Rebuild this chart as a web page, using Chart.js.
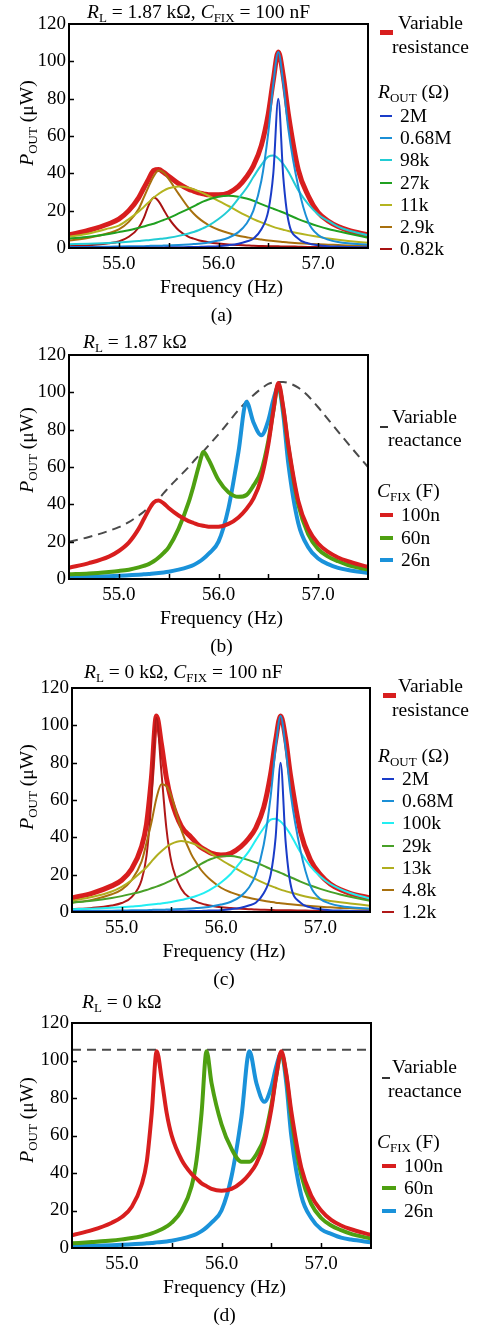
<!DOCTYPE html>
<html>
<head>
<meta charset="utf-8">
<script src="https://cdn.jsdelivr.net/npm/chart.js@4.4.1/dist/chart.umd.min.js"></script>
<style>
  body { margin: 0; background: #fff; }
  #page { position: relative; width: 478px; height: 1328px; overflow: hidden;
          font-family: "Liberation Serif", "DejaVu Serif", serif; color: #000; }
  canvas { position: absolute; left: 0; }
  .t { position: absolute; font-size: 19.5px; line-height: 20px; white-space: nowrap; }
  .t i { font-style: italic; }
  .t sub { font-size: 13px; vertical-align: -4px; line-height: 0; }
  .ctr { transform: translateX(-50%); }
  .yl { transform: translate(-50%, -50%) rotate(-90deg); }
  .mk { position: absolute; }
</style>
</head>
<body>
<div id="page">
  <canvas id="ca" width="478" height="330" style="top:0px"></canvas>
  <canvas id="cb" width="478" height="330" style="top:330px"></canvas>
  <canvas id="cc" width="478" height="330" style="top:660px"></canvas>
  <canvas id="cd" width="478" height="338" style="top:990px"></canvas>
</div>
<script>
// shared frequency grid (Hz)
const freq = [54.5, 54.7, 54.9, 55.0, 55.1, 55.2,
              55.25, 55.3, 55.35, 55.4, 55.45, 55.5,
              55.6, 55.7, 55.75, 55.8, 55.85, 55.9,
              56.0, 56.1, 56.2, 56.28, 56.35, 56.43,
              56.5, 56.55, 56.6, 56.65, 56.7, 56.8,
              56.9, 57.0, 57.1, 57.2, 57.3, 57.5];
const yTicks = [0, 20, 40, 60, 80, 100, 120];

// (a) RL = 1.87 kOhm, CFIX = 100 nF
const aLabels = ['2M', '0.68M', '98k', '27k', '11k', '2.9k', '0.82k'];
const aVarRes = [7, 9.5, 13, 15.5, 20, 27,
                 32, 37, 41.5, 42, 40.5, 38.5,
                 34.5, 31.5, 30.5, 29.5, 29, 28.5,
                 28.5, 29.5, 33, 38, 44, 55,
                 72, 90, 105, 92, 72, 42,
                 28, 19, 14.5, 11.5, 9.5, 7];
const a2M = [0.3, 0.3, 0.3, 0.3, 0.3, 0.3,
             0.3, 0.3, 0.3, 0.3, 0.3, 0.4,
             0.4, 0.5, 0.5, 0.6, 0.7, 0.8,
             1, 1.5, 2.3, 3.5, 5, 10,
             20, 40, 80, 38, 15, 5,
             2.5, 1.5, 1, 0.8, 0.6, 0.4];
const a068M = [0.5, 0.6, 0.7, 0.8, 0.9, 1,
               1, 1.1, 1.2, 1.2, 1.3, 1.4,
               1.6, 1.9, 2.1, 2.3, 2.6, 3,
               4, 5.5, 8.5, 13, 20, 36,
               62, 88, 105, 88, 64, 33,
               14, 7, 4.5, 3.2, 2.5, 1.8];
const a98k = [2, 2.3, 2.7, 3, 3.3, 3.7,
              4, 4.2, 4.5, 4.8, 5.1, 5.5,
              6.5, 7.8, 8.6, 9.5, 10.7, 12,
              15.5, 20, 26.5, 32, 38, 44.5,
              49, 49.5, 48, 45, 41, 31,
              23.5, 18, 14.5, 11.5, 9.5, 6.8];
const a27k = [5, 6, 7.5, 8.5, 9.5, 10.8,
              11.5, 12.3, 13, 14, 15, 16,
              18.5, 21, 22.3, 23.7, 25, 26,
              27.5, 28, 27.5, 26.5, 25.3, 23.5,
              22, 21, 20, 19, 17.8, 15.5,
              13.5, 11.7, 10.2, 9, 7.8, 5.5];
const a11k = [6, 7.8, 10.5, 12, 15.5, 19.5,
              22, 24.5, 27, 29, 30.8, 32,
              33, 32.3, 31.5, 30.5, 29.3, 28,
              25.3, 22.5, 19.5, 17.3, 15.5, 13.7,
              12.3, 11.3, 10.5, 9.8, 9.1, 7.9,
              6.9, 6, 5.1, 4.4, 3.8, 2.8];
const a2k9 = [4, 5.5, 8, 10, 14, 21,
              27, 33, 38.5, 41.5, 40.5, 37,
              29, 21.5, 18.5, 16, 14, 12.3,
              9.8, 8, 6.6, 5.8, 5.1, 4.5,
              4, 3.7, 3.5, 3.2, 3, 2.6,
              2.3, 2, 1.8, 1.6, 1.4, 1.2];
const a0k82 = [1, 1.5, 2.5, 3.5, 6, 11,
               16, 23, 27, 25, 20.5, 16,
               9.5, 6, 5, 4.2, 3.6, 3.1,
               2.4, 1.9, 1.6, 1.4, 1.2, 1.1,
               1, 0.9, 0.9, 0.8, 0.8, 0.7,
               0.6, 0.6, 0.5, 0.5, 0.5, 0.4];

// (b) RL = 1.87 kOhm, varying CFIX
const bLabels = ['100n', '60n', '26n'];
const b100n = [6, 8.5, 12, 15, 19.5, 27,
               32, 37, 41, 42, 40.5, 38,
               34, 31, 30, 29, 28.5, 28,
               28, 29.5, 33, 37.5, 43, 54,
               72, 90, 105, 92, 72, 42,
               27, 19, 14.5, 11.5, 9.5, 6.5];
const b60n = [2.5, 3, 3.8, 4.3, 5, 6.2,
              7, 8, 9.5, 11.5, 14, 17,
              27, 41, 50, 60, 68, 64,
              53, 46.5, 44, 45, 50, 58,
              74, 90, 104, 91, 71, 40,
              24, 16, 12, 9.5, 7.5, 5];
const b26n = [1, 1.2, 1.5, 1.7, 2, 2.3,
              2.5, 2.7, 3, 3.2, 3.5, 3.9,
              5, 6.5, 7.5, 9, 11, 13.5,
              20, 38, 68, 95, 84, 77,
              85, 96, 103, 88, 62, 30,
              17, 11, 8, 6, 4.8, 3.2];
const bVarReact = [20, 22.5, 25.8, 27.8, 30.5, 34,
                   36, 38.5, 41, 43, 46, 49,
                   54.5, 60, 63, 66, 68.5, 71.5,
                   77.5, 84, 90.5, 95, 98.5, 102,
                   104.5, 105.3, 105.5, 105.5, 105, 102.5,
                   98, 92, 85.5, 79, 72.5, 60];

// (c) RL = 0 kOhm, CFIX = 100 nF
const cLabels = ['2M', '0.68M', '100k', '29k', '13k', '4.8k', '1.2k'];
const cVarRes = [7.5, 10, 14, 17, 23, 35,
                 47, 72, 105, 90, 72, 60,
                 46, 40, 37, 34.5, 33, 31.5,
                 30.5, 31.5, 35, 39.5, 45, 56,
                 74, 92, 105, 93, 73, 43,
                 28, 20, 15, 12, 10, 7.5];
const c2M = [0.3, 0.3, 0.3, 0.3, 0.3, 0.3,
             0.3, 0.3, 0.3, 0.3, 0.3, 0.4,
             0.4, 0.5, 0.5, 0.6, 0.7, 0.8,
             1, 1.5, 2.3, 3.5, 5, 10,
             20, 40, 80, 38, 15, 5,
             2.5, 1.5, 1, 0.8, 0.6, 0.4];
const c068M = [0.5, 0.6, 0.7, 0.8, 0.9, 1,
               1, 1.1, 1.2, 1.2, 1.3, 1.4,
               1.6, 1.9, 2.1, 2.3, 2.6, 3,
               4, 5.5, 8.5, 13, 20, 36,
               62, 88, 105, 88, 64, 33,
               14, 7, 4.5, 3.2, 2.5, 1.8];
const c100k = [1.5, 1.8, 2.3, 2.6, 3, 3.4,
               3.7, 4, 4.3, 4.6, 5, 5.4,
               6.4, 7.8, 8.6, 9.6, 10.8, 12.2,
               15.8, 20.5, 27, 32.5, 38.5, 45,
               49.5, 50, 48.5, 45.5, 41.5, 32,
               24.5, 19, 15, 12.3, 10.2, 7.2];
const c29k = [5, 6, 7.5, 8.5, 9.7, 11,
              11.8, 12.7, 13.6, 14.6, 15.7, 17,
              19.7, 22.7, 24.2, 25.8, 27.2, 28.4,
              29.8, 30, 29, 27.8, 26.5, 24.7,
              23, 22, 21, 19.8, 18.6, 16.3,
              14.2, 12.4, 10.8, 9.4, 8.2, 6];
const c13k = [6, 8, 11, 13.5, 17, 21.5,
              24, 27, 30, 32.5, 34.8, 36.5,
              38, 37, 36, 34.5, 33, 31.3,
              28, 24.8, 21.8, 19.5, 17.6, 15.6,
              14, 13, 12, 11.2, 10.4, 9,
              7.8, 6.8, 5.9, 5.2, 4.6, 3.4];
const c4k8 = [5, 6.5, 9.5, 12, 17, 27,
              37, 48, 61, 68.5, 67.5, 62,
              44, 31, 26.5, 22.5, 19.5, 17,
              13, 10.5, 8.7, 7.6, 6.8, 6,
              5.4, 5, 4.7, 4.4, 4.1, 3.6,
              3.2, 2.8, 2.5, 2.2, 2, 1.6];
const c1k2 = [1.5, 2.2, 3.5, 4.8, 8, 17,
              30, 60, 104, 75, 45, 27,
              12.5, 7, 5.6, 4.6, 3.9, 3.4,
              2.6, 2.1, 1.7, 1.5, 1.3, 1.2,
              1.1, 1, 1, 0.9, 0.9, 0.8,
              0.7, 0.6, 0.6, 0.5, 0.5, 0.4];

// (d) RL = 0 kOhm, varying CFIX
const dLabels = ['100n', '60n', '26n'];
const d100n = [6.8, 9.5, 13.5, 16.5, 22, 34,
               46, 72, 105, 90, 72, 60,
               47, 39.5, 37, 34.5, 33, 31.5,
               30.5, 31.5, 35, 39.5, 45, 56,
               74, 92, 105, 93, 73, 43,
               28, 20, 15, 12, 10, 7];
const d60n = [2.5, 3.2, 4, 4.6, 5.3, 6.3,
              7, 7.8, 8.8, 10, 11.5, 13.5,
              20, 33, 47, 72, 105, 88,
              66, 53, 46, 46, 50, 59,
              76, 92, 104, 92, 70, 39,
              23.5, 16, 12, 9.5, 7.5, 5];
const d26n = [1, 1.2, 1.5, 1.7, 2, 2.3,
              2.5, 2.7, 3, 3.2, 3.5, 3.9,
              5, 6.5, 7.5, 9, 11, 13.5,
              20, 38, 70, 105, 88, 78,
              86, 97, 104, 88, 60, 28,
              16, 10, 7.5, 5.5, 4.5, 3];
const dDashFreq = [54.5, 57.5];
const dVarReact = [105.7, 105.7];

const FONT = '"Liberation Serif", "DejaVu Serif", serif';
const page = document.getElementById('page');

function pts(xs, ys) { return xs.map((x, i) => ({ x: x, y: ys[i] })); }

function line(label, ys, color, width, xs, dash) {
  return {
    label: label, data: pts(xs || freq, ys), borderColor: color, borderWidth: width,
    borderDash: dash || [], pointRadius: 0, fill: false,
    cubicInterpolationMode: 'monotone', borderCapStyle: 'butt', borderJoinStyle: 'round'
  };
}

// black frame with inward ticks
const framePlugin = {
  id: 'frame',
  afterDatasetsDraw(chart) {
    const { ctx, chartArea: a, scales } = chart;
    ctx.save();
    ctx.strokeStyle = '#000';
    ctx.lineWidth = 1.5;
    ctx.beginPath();
    scales.x.ticks.forEach(t => {
      if (t.value <= scales.x.min + 1e-6 || t.value >= scales.x.max - 1e-6) return;
      const px = Math.round(scales.x.getPixelForValue(t.value)) + 0.5;
      ctx.moveTo(px, a.bottom); ctx.lineTo(px, a.bottom - 5);
    });
    scales.y.ticks.forEach(t => {
      if (t.value <= scales.y.min || t.value >= scales.y.max) return;
      const py = Math.round(scales.y.getPixelForValue(t.value)) + 0.5;
      ctx.moveTo(a.left, py); ctx.lineTo(a.left + 5, py);
    });
    ctx.stroke();
    ctx.lineWidth = 2;
    ctx.strokeRect(a.left, a.top, a.right - a.left, a.bottom - a.top);
    ctx.restore();
  }
};

function makeChart(id, h, area, datasets) {
  return new Chart(document.getElementById(id), {
    type: 'line',
    data: { datasets: datasets },
    options: {
      responsive: false, animation: false, devicePixelRatio: 1,
      layout: { padding: { left: 0, top: area.top, right: 478 - area.right, bottom: 0 } },
      plugins: { legend: { display: false }, tooltip: { enabled: false } },
      scales: {
        x: {
          type: 'linear', min: 54.5, max: 57.5,
          afterFit(s) { s.height = h - area.bottom; },
          grid: { display: false, drawTicks: false }, border: { display: false },
          ticks: {
            stepSize: 0.5, autoSkip: false, maxRotation: 0, padding: 5, color: '#000',
            font: { family: FONT, size: 19 },
            callback: v => (Math.abs(v - Math.round(v)) < 1e-6 && v > 54.6 && v < 57.4) ? v.toFixed(1) : ''
          }
        },
        y: {
          min: 0, max: 120,
          afterFit(s) { s.width = area.left; },
          afterBuildTicks(s) { s.ticks = yTicks.map(v => ({ value: v })); },
          grid: { display: false, drawTicks: false }, border: { display: false },
          ticks: { padding: 3, color: '#000', font: { family: FONT, size: 19 } }
        }
      }
    },
    plugins: [framePlugin]
  });
}

function txt(html, x, y, cls) {
  const d = document.createElement('div');
  d.className = 't ' + (cls || '');
  d.innerHTML = html;
  d.style.left = x + 'px';
  d.style.top = y + 'px';
  page.appendChild(d);
}
function mark(x, y, w, h, color) {
  const d = document.createElement('div');
  d.className = 'mk';
  Object.assign(d.style, { left: x + 'px', top: y + 'px', width: w + 'px', height: h + 'px', background: color });
  page.appendChild(d);
}
function legend(ds, x0, y0, step, dashW, dashH) {
  ds.forEach((d, i) => {
    const y = y0 + i * step;
    mark(x0, y - dashH / 2, dashW, dashH, d.borderColor);
    txt(d.label, x0 + dashW + 8, y - 10);
  });
}
function decorate(top, area, title, titleX, caption, yLabelY) {
  txt(title, titleX, top + 2);
  txt('Frequency (Hz)', (area.left + area.right) / 2 + 3, top + area.bottom + 29, 'ctr');
  txt(caption, (area.left + area.right) / 2 + 3, top + area.bottom + 57, 'ctr');
  txt('<i>P</i><sub>OUT</sub> (μW)', 27, yLabelY, 'yl');
}

const RED = '#d81e1e';

// ---- panel a
const areaA = { left: 69, right: 368, top: 24, bottom: 248 };
const dsA = [
  line(aLabels[0], a2M, '#1a3cc8', 2),
  line(aLabels[1], a068M, '#1b8fd6', 2),
  line(aLabels[2], a98k, '#22ccd4', 2),
  line(aLabels[3], a27k, '#20a020', 2),
  line(aLabels[4], a11k, '#b4b420', 2),
  line(aLabels[5], a2k9, '#a8700e', 2),
  line(aLabels[6], a0k82, '#a81212', 2),
  line('Variable resistance', aVarRes, RED, 5)
];
makeChart('ca', 330, areaA, dsA);
decorate(0, areaA, '<i>R</i><sub>L</sub> = 1.87 kΩ, <i>C</i><sub>FIX</sub> = 100 nF', 87, '(a)', 123);
mark(380, 30, 13, 5, RED);
txt('Variable', 398, 13);
txt('resistance', 392, 37);
txt('<i>R</i><sub>OUT</sub> (Ω)', 378, 82);
legend(dsA.slice(0, 7), 380, 116, 22.2, 12, 2);

// ---- panel b
const areaB = { left: 69, right: 368, top: 25, bottom: 249 };
const dsB = [
  line(bLabels[0], b100n, RED, 4),
  line(bLabels[1], b60n, '#4ea011', 4),
  line(bLabels[2], b26n, '#1a92da', 4),
  line('Variable reactance', bVarReact, '#4a4a4a', 2, freq, [9, 6])
];
makeChart('cb', 330, areaB, dsB);
decorate(330, areaB, '<i>R</i><sub>L</sub> = 1.87 kΩ', 83, '(b)', 450);
mark(380, 426, 8, 2, '#333');
txt('Variable', 392, 407);
txt('reactance', 388, 430);
txt('<i>C</i><sub>FIX</sub> (F)', 377, 481);
legend(dsB.slice(0, 3), 380, 515, 22.5, 13, 4);

// ---- panel c
const areaC = { left: 72, right: 370, top: 28, bottom: 252 };
const dsC = [
  line(cLabels[0], c2M, '#1a3cc8', 2),
  line(cLabels[1], c068M, '#1b8fd6', 2),
  line(cLabels[2], c100k, '#22eef2', 2),
  line(cLabels[3], c29k, '#48a028', 2),
  line(cLabels[4], c13k, '#b0ae1e', 2),
  line(cLabels[5], c4k8, '#a8700e', 2),
  line(cLabels[6], c1k2, '#b01818', 2),
  line('Variable resistance', cVarRes, RED, 5)
];
makeChart('cc', 330, areaC, dsC);
decorate(660, areaC, '<i>R</i><sub>L</sub> = 0 kΩ, <i>C</i><sub>FIX</sub> = 100 nF', 84, '(c)', 787);
mark(383, 693, 13, 5, RED);
txt('Variable', 398, 676);
txt('resistance', 392, 700);
txt('<i>R</i><sub>OUT</sub> (Ω)', 378, 746);
legend(dsC.slice(0, 7), 382, 779, 22.2, 12, 2);

// ---- panel d
const areaD = { left: 72, right: 371, top: 33, bottom: 258 };
const dsD = [
  line(dLabels[0], d100n, RED, 4),
  line(dLabels[1], d60n, '#4ea011', 4),
  line(dLabels[2], d26n, '#1a92da', 4),
  line('Variable reactance', dVarReact, '#4a4a4a', 2, dDashFreq, [9, 6])
];
makeChart('cd', 338, areaD, dsD);
decorate(990, areaD, '<i>R</i><sub>L</sub> = 0 kΩ', 82, '(d)', 1120);
mark(382, 1077, 8, 2, '#333');
txt('Variable', 392, 1057);
txt('reactance', 388, 1081);
txt('<i>C</i><sub>FIX</sub> (F)', 377, 1132);
legend(dsD.slice(0, 3), 382, 1166, 22.3, 14, 4);
</script>
</body>
</html>
